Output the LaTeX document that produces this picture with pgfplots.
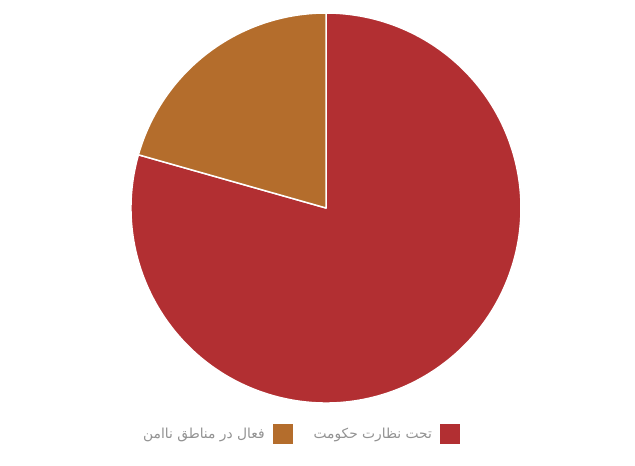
\documentclass[border=0pt]{standalone}
\usepackage{pgfplots}
\pgfplotsset{compat=1.18}
\usepackage{pgfplotstable}
\usepackage{fontspec}
\TeXXeTstate=1
\newfontfamily\arabicfont[Script=Arabic]{DejaVu Sans}
\definecolor{sliceRed}{HTML}{B22F32}
\definecolor{sliceOrange}{HTML}{B46D2C}
\definecolor{legendGray}{HTML}{929292}
\pgfplotstableread{
slice value
gov 79.4
unsafe 20.6
}\piedata
\begin{document}
\begin{tikzpicture}[x=1pt,y=1pt]
\pgfplotstablegetelem{0}{value}\of\piedata \let\valGov\pgfplotsretval
\pgfplotstablegetelem{1}{value}\of\piedata \let\valUnsafe\pgfplotsretval
\pgfmathsetmacro{\aA}{90}
\pgfmathsetmacro{\aB}{90+3.6*\valUnsafe}
\pgfmathsetmacro{\aC}{\aB+3.6*\valGov}
\useasboundingbox (0,0) rectangle (635,466);
\begin{axis}[
  at={(131pt,63pt)}, anchor=south west,
  scale only axis, width=390pt, height=390pt,
  xmin=-1, xmax=1, ymin=-1, ymax=1,
  hide axis, clip=false,
  legend plot pos=right,
  legend columns=2,
  legend image code/.code={\fill[#1, draw=none] (0pt,-10pt) rectangle (20pt,10pt);},
  legend style={at={(rel axis cs:0.4372,-0.0795)}, anchor=center, draw=none, fill=none,
    font=\fontsize{13.8}{16}\selectfont, text=legendGray,
    nodes={inner sep=0pt},
    /tikz/every odd column/.append style={column sep=8pt},
    /tikz/every even column/.append style={column sep=21pt}},
]
\addlegendimage{fill=sliceOrange, draw=none}
\addlegendentry{\arabicfont\beginR فعال در مناطق ناامن\endR}
\addlegendimage{fill=sliceRed, draw=none}
\addlegendentry{\arabicfont\beginR تحت نظارت حکومت\endR}
\edef\slices{%
\noexpand\fill[sliceRed, draw=white, line width=1.5pt, line join=round] (axis cs:0,0) -- (axis cs:{cos(\aB)},{sin(\aB)}) arc[start angle=\aB, end angle=\aC, radius=195pt] -- cycle;
\noexpand\fill[sliceOrange, draw=white, line width=1.5pt, line join=round] (axis cs:0,0) -- (axis cs:{cos(\aA)},{sin(\aA)}) arc[start angle=\aA, end angle=\aB, radius=195pt] -- cycle;
}
\slices
\end{axis}
\end{tikzpicture}
\end{document}
